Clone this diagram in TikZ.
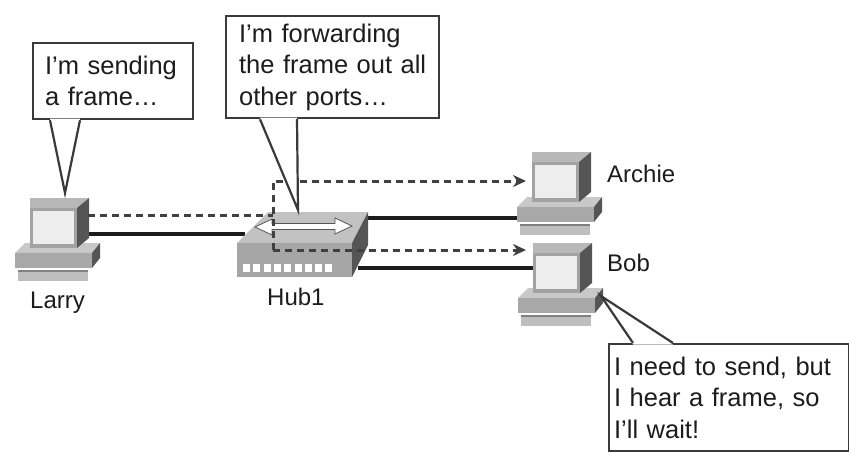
\documentclass[tikz,border=0pt]{standalone}
\usepackage{fontspec}
\setmainfont{Liberation Sans}
\usetikzlibrary{arrows.meta}
\definecolor{ink}{HTML}{1C1C1C}
\definecolor{edge}{HTML}{3A3A3A}
\definecolor{flowgray}{HTML}{404040}
\definecolor{scr}{HTML}{EDEDED}
\definecolor{bezel}{HTML}{A2A2A2}
\definecolor{montop}{HTML}{B8B8B8}
\definecolor{dark}{HTML}{555555}
\definecolor{basetop}{HTML}{C8C8C8}
\definecolor{basefront}{HTML}{A8A8A8}
\definecolor{kbd}{HTML}{BEBEBE}
\definecolor{hubtop}{HTML}{C2C2C2}
\definecolor{hubfront}{HTML}{A6A6A6}
\begin{document}
\begin{tikzpicture}[x=1pt,y=-1pt,
  wire/.style={line width=3.2pt,ink},
  flow/.style={line width=3pt,color=flowgray,dash pattern=on 7pt off 5pt},
  tip/.style={-{Stealth[length=13pt,width=12pt]}},
  lbl/.style={anchor=base west,inner sep=0pt,text=ink,font=\fontsize{24}{28}\selectfont},
  talk/.style={draw=edge,line width=2.2pt,fill=white,anchor=north west,align=left,
    text=ink,inner ysep=0pt,font=\fontsize{25.5}{31.5}\selectfont},
  talkline/.style={draw=edge,line width=2.2pt,line join=miter},
  computer/.pic={
    % desk unit
    \fill[basetop] (-5,45) -- (70,45) -- (62,55) -- (-15,55) -- cycle;
    \fill[basefront] (-15,55) rectangle (62,70);
    \fill[dark] (62,55) -- (70,45) -- (70,60) -- (62,70) -- cycle;
    \fill[kbd] (-12,72) rectangle (58,83);
    \fill[gray] (-12,72) rectangle (58,73.5);
    % monitor
    \fill[montop] (0,0) -- (59,0) -- (47,10) -- (0,10) -- cycle;
    \fill[bezel] (0,10) rectangle (47,50);
    \fill[dark] (47,10) -- (59,0) -- (59,40) -- (47,50) -- cycle;
    \fill[scr] (3,13) rectangle (44,46);
  },
  hubbox/.pic={
    \fill[hubtop] (31,0) -- (131,0) -- (115,31) -- (0,31) -- cycle;
    \fill[hubfront] (0,31) rectangle (115,65);
    \fill[dark] (115,31) -- (131,0) -- (131,33) -- (115,65) -- cycle;
    % port row
    \foreach \i in {0,...,8}
      \fill[white] (6+\i*10.3,52) rectangle ++(7,8);
    % double arrow on the top face
    \filldraw[fill=white,draw=dark,line width=0.8pt]
      (18,15) -- (35,7) -- (35,11.5) -- (98,11.5) -- (98,6)
      -- (115,14) -- (98,22) -- (98,17.5) -- (35,17.5) -- (35,23) -- cycle;
  }]
\useasboundingbox (0,0) rectangle (849,452);

% connector end points
\coordinate (larryD) at (88,215);
\coordinate (larryS) at (88,234);
\coordinate (hubL) at (245,234);
\coordinate (hubIn) at (273,215);
\coordinate (hubUp) at (273,181);
\coordinate (hubJoin) at (273,250);
\coordinate (hubR1) at (366,218);
\coordinate (hubR2) at (358,268);
\coordinate (archieS) at (518,218);
\coordinate (archieD) at (526,181);
\coordinate (bobS) at (535,268);
\coordinate (bobD) at (526,250);

% cabling
\draw[wire] (larryS) -- (hubL);
\draw[wire] (hubR1) -- (archieS);
\draw[wire] (hubR2) -- (bobS);

% devices
\pic (larry) at (30,198) {computer};
\pic (archie) at (532,152) {computer};
\pic (bob) at (533,243) {computer};
\pic (hub) at (237,212) {hubbox};

% frame flow
\draw[flow] (larryD) -- (hubIn);
\draw[flow,tip] (hubJoin) -- (hubUp) -- (archieD);
\draw[flow,tip] (hubJoin) -- (bobD);

% device names
\node[lbl] (larryname) at (30,308) {Larry};
\node[lbl] (hubname) at (267,305) {Hub1};
\node[lbl] (archiename) at (607,182) {Archie};
\node[lbl] (bobname) at (607,271) {Bob};

% speech balloons
\coordinate (larryTip) at (65,193);
\coordinate (hubTip) at (298,210);
\coordinate (bobTip) at (601,296);

\node[talk,minimum width=160pt,minimum height=76pt,text width=136pt,inner xsep=12pt]
  (larrytalk) at (32,42) {I'm~sending\\a~frame…};
\fill[white] ([xshift=18pt,yshift=1.5pt]larrytalk.south west) -- (larryTip)
  -- ([xshift=48pt,yshift=1.5pt]larrytalk.south west) -- cycle;
\draw[talkline] ([xshift=18pt]larrytalk.south west) -- (larryTip)
  -- ([xshift=48pt]larrytalk.south west);

\node[talk,minimum width=213pt,minimum height=102pt,text width=187pt,inner xsep=13pt]
  (hubtalk) at (225,15) {I'm~forwarding\\the~frame~out~all\\other~ports…};
\fill[white] ([xshift=35pt,yshift=1.5pt]hubtalk.south west) -- (hubTip)
  -- ([xshift=72pt,yshift=1.5pt]hubtalk.south west) -- cycle;
\draw[talkline] ([xshift=35pt]hubtalk.south west) -- (hubTip)
  -- ([xshift=72pt]hubtalk.south west);

\node[talk,minimum width=240pt,minimum height=107pt,text width=230pt,inner xsep=5pt]
  (bobtalk) at (608,343) {I~need~to~send,~but\\I~hear~a~frame,~so\\I'll~wait!};
\fill[white] ([xshift=25pt,yshift=-1.5pt]bobtalk.north west) -- (bobTip)
  -- ([xshift=65pt,yshift=-1.5pt]bobtalk.north west) -- cycle;
\draw[talkline] ([xshift=25pt]bobtalk.north west) -- (bobTip)
  -- ([xshift=65pt]bobtalk.north west);
\end{tikzpicture}
\end{document}
